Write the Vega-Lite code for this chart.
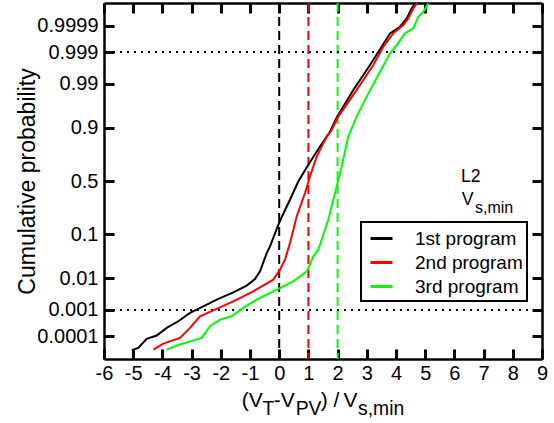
{
  "$schema": "https://vega.github.io/schema/vega-lite/v6.json",
  "width": 438,
  "height": 356,
  "autosize": "none",
  "padding": {"left": 104, "top": 3, "right": 12, "bottom": 64},
  "background": "white",
  "config": {
    "font": "Liberation Sans",
    "view": {"stroke": null},
    "axis": {"grid": false, "domainColor": "black", "domainWidth": 2.5, "tickColor": "black", "tickWidth": 3, "tickSize": -10, "labelColor": "black", "labelFont": "Liberation Sans"},
    "legend": {
      "symbolType": "stroke", "symbolSize": 484, "symbolStrokeWidth": 3, "symbolDash": [1, 0],
      "labelFontSize": 19, "labelColor": "black", "labelFont": "Liberation Sans", "labelOffset": 21,
      "rowPadding": 1, "padding": 4, "symbolOffset": 4,
      "strokeColor": "black", "strokeWidth": 2, "fillColor": "white"
    }
  },
  "datasets": {
    "curves": [
      {"program": "1st program", "v": -5.05, "z": -4.055},
      {"program": "1st program", "v": -4.825, "z": -3.998},
      {"program": "1st program", "v": -4.538, "z": -3.782},
      {"program": "1st program", "v": -4.195, "z": -3.703},
      {"program": "1st program", "v": -3.853, "z": -3.519},
      {"program": "1st program", "v": -3.455, "z": -3.361},
      {"program": "1st program", "v": -3.055, "z": -3.16},
      {"program": "1st program", "v": -2.599, "z": -3.002},
      {"program": "1st program", "v": -2.14, "z": -2.842},
      {"program": "1st program", "v": -1.572, "z": -2.667},
      {"program": "1st program", "v": -1.113, "z": -2.507},
      {"program": "1st program", "v": -0.829, "z": -2.35},
      {"program": "1st program", "v": -0.658, "z": -2.165},
      {"program": "1st program", "v": -0.428, "z": -1.73},
      {"program": "1st program", "v": -0.315, "z": -1.567},
      {"program": "1st program", "v": 0.0, "z": -1.0},
      {"program": "1st program", "v": 0.257, "z": -0.61},
      {"program": "1st program", "v": 0.37, "z": -0.45},
      {"program": "1st program", "v": 0.654, "z": -0.012},
      {"program": "1st program", "v": 0.997, "z": 0.388},
      {"program": "1st program", "v": 1.397, "z": 0.825},
      {"program": "1st program", "v": 1.74, "z": 1.18},
      {"program": "1st program", "v": 1.97, "z": 1.52},
      {"program": "1st program", "v": 2.538, "z": 2.182},
      {"program": "1st program", "v": 3.11, "z": 2.78},
      {"program": "1st program", "v": 3.51, "z": 3.218},
      {"program": "1st program", "v": 3.795, "z": 3.538},
      {"program": "1st program", "v": 4.137, "z": 3.696},
      {"program": "1st program", "v": 4.366, "z": 3.897},
      {"program": "1st program", "v": 4.538, "z": 4.136},
      {"program": "1st program", "v": 4.651, "z": 4.256},
      {"program": "2nd program", "v": -4.312, "z": -4.038},
      {"program": "2nd program", "v": -3.969, "z": -3.895},
      {"program": "2nd program", "v": -3.397, "z": -3.758},
      {"program": "2nd program", "v": -3.055, "z": -3.519},
      {"program": "2nd program", "v": -2.712, "z": -3.242},
      {"program": "2nd program", "v": -2.14, "z": -3.065},
      {"program": "2nd program", "v": -1.572, "z": -2.883},
      {"program": "2nd program", "v": -0.887, "z": -2.644},
      {"program": "2nd program", "v": -0.202, "z": -2.364},
      {"program": "2nd program", "v": 0.027, "z": -2.124},
      {"program": "2nd program", "v": 0.199, "z": -1.885},
      {"program": "2nd program", "v": 0.37, "z": -1.486},
      {"program": "2nd program", "v": 0.599, "z": -0.849},
      {"program": "2nd program", "v": 0.884, "z": -0.289},
      {"program": "2nd program", "v": 1.055, "z": 0.108},
      {"program": "2nd program", "v": 1.284, "z": 0.586},
      {"program": "2nd program", "v": 1.627, "z": 1.065},
      {"program": "2nd program", "v": 1.78, "z": 1.2},
      {"program": "2nd program", "v": 2.024, "z": 1.543},
      {"program": "2nd program", "v": 2.654, "z": 2.182},
      {"program": "2nd program", "v": 3.223, "z": 2.78},
      {"program": "2nd program", "v": 3.565, "z": 3.218},
      {"program": "2nd program", "v": 3.908, "z": 3.538},
      {"program": "2nd program", "v": 4.25, "z": 3.737},
      {"program": "2nd program", "v": 4.421, "z": 3.897},
      {"program": "2nd program", "v": 4.592, "z": 4.136},
      {"program": "2nd program", "v": 4.72, "z": 4.263},
      {"program": "3rd program", "v": -3.853, "z": -4.038},
      {"program": "3rd program", "v": -3.397, "z": -3.919},
      {"program": "3rd program", "v": -2.654, "z": -3.758},
      {"program": "3rd program", "v": -2.37, "z": -3.481},
      {"program": "3rd program", "v": -2.027, "z": -3.321},
      {"program": "3rd program", "v": -1.627, "z": -3.242},
      {"program": "3rd program", "v": -1.229, "z": -3.041},
      {"program": "3rd program", "v": -0.771, "z": -2.842},
      {"program": "3rd program", "v": -0.086, "z": -2.603},
      {"program": "3rd program", "v": 0.483, "z": -2.404},
      {"program": "3rd program", "v": 0.942, "z": -2.165},
      {"program": "3rd program", "v": 0.997, "z": -2.09},
      {"program": "3rd program", "v": 1.168, "z": -1.806},
      {"program": "3rd program", "v": 1.339, "z": -1.646},
      {"program": "3rd program", "v": 1.682, "z": -0.928},
      {"program": "3rd program", "v": 1.911, "z": -0.289},
      {"program": "3rd program", "v": 2.14, "z": 0.347},
      {"program": "3rd program", "v": 2.366, "z": 1.065},
      {"program": "3rd program", "v": 2.654, "z": 1.543},
      {"program": "3rd program", "v": 2.997, "z": 2.022},
      {"program": "3rd program", "v": 3.394, "z": 2.541},
      {"program": "3rd program", "v": 3.795, "z": 3.06},
      {"program": "3rd program", "v": 4.024, "z": 3.258},
      {"program": "3rd program", "v": 4.308, "z": 3.538},
      {"program": "3rd program", "v": 4.592, "z": 3.658},
      {"program": "3rd program", "v": 4.764, "z": 3.935},
      {"program": "3rd program", "v": 4.935, "z": 4.055},
      {"program": "3rd program", "v": 5.106, "z": 4.256}
    ],
    "refs": [
      {"program": "1st program", "v": 0},
      {"program": "2nd program", "v": 1},
      {"program": "3rd program", "v": 2}
    ],
    "hlines": [
      {"p": 0.999, "z": 3.090232},
      {"p": 0.001, "z": -3.090232}
    ],
    "notes": [
      {"text": "(V", "role": "title", "v": -1.284, "z": -5.414},
      {"text": "T", "role": "titlesub", "v": -0.575, "z": -5.598},
      {"text": "-V", "role": "title", "v": -0.19, "z": -5.414},
      {"text": "PV", "role": "titlesub", "v": 0.565, "z": -5.598},
      {"text": ") /", "role": "title", "v": 1.42, "z": -5.414},
      {"text": "V", "role": "title", "v": 2.2, "z": -5.414},
      {"text": "s,min", "role": "titlesub", "v": 2.7, "z": -5.598},
      {"text": "L2", "role": "note", "v": 6.226, "z": -0.017},
      {"text": "V", "role": "note", "v": 6.25, "z": -0.574},
      {"text": "s,min", "role": "notesub", "v": 6.705, "z": -0.773}
    ]
  },
  "layer": [
    {
      "data": {"name": "refs"},
      "mark": {"type": "rule", "strokeDash": [9, 5], "strokeWidth": 2},
      "encoding": {
        "x": {
          "field": "v", "type": "quantitative",
          "scale": {"domain": [-6, 9], "nice": false, "zero": false},
          "axis": {"orient": "bottom", "values": [-6, -5, -4, -3, -2, -1, 0, 1, 2, 3, 4, 5, 6, 7, 8, 9], "labelExpr": "'' + datum.value", "labelFontSize": 20, "labelPadding": 14.5, "labelFlush": false, "labelOverlap": false, "title": null}
        },
        "color": {
          "field": "program", "type": "nominal",
          "scale": {"domain": ["1st program", "2nd program", "3rd program"], "range": ["#000000", "#ff0000", "#00ff00"]},
          "legend": {"title": null, "orient": "none", "legendX": 257, "legendY": 219}
        }
      }
    },
    {
      "data": {"name": "hlines"},
      "mark": {"type": "rule", "strokeDash": [2, 5], "strokeWidth": 2, "color": "black"},
      "encoding": {
        "y": {
          "field": "z", "type": "quantitative",
          "scale": {"domain": [-4.265, 4.265], "nice": false, "zero": false},
          "axis": {
            "orient": "left",
            "values": [-3.719016, -3.090232, -2.326348, -1.281552, 0, 1.281552, 2.326348, 3.090232, 3.719016],
            "labelExpr": "datum.value < -3.5 ? '0.0001' : datum.value < -3 ? '0.001' : datum.value < -2 ? '0.01' : datum.value < -1 ? '0.1' : datum.value < 1 ? '0.5' : datum.value < 2 ? '0.9' : datum.value < 3 ? '0.99' : datum.value < 3.5 ? '0.999' : '0.9999'",
            "labelFontSize": 20, "labelPadding": 16, "labelFlush": false, "labelOverlap": false,
            "title": "Cumulative probability", "titleFontSize": 23, "titleFontWeight": "normal", "titleColor": "black", "titleX": -77, "titleBaseline": "middle"
          }
        }
      }
    },
    {
      "data": {"name": "curves"},
      "mark": {"type": "line", "strokeWidth": 2, "clip": true},
      "encoding": {
        "x": {
          "field": "v", "type": "quantitative",
          "axis": {"orient": "top", "values": [-6, -5, -4, -3, -2, -1, 0, 1, 2, 3, 4, 5, 6, 7, 8, 9], "labels": false, "title": null}
        },
        "y": {
          "field": "z", "type": "quantitative",
          "axis": {"orient": "right", "values": [-3.719016, -3.090232, -2.326348, -1.281552, 0, 1.281552, 2.326348, 3.090232, 3.719016], "labels": false, "title": null}
        },
        "color": {
          "field": "program", "type": "nominal",
          "legend": {"title": null, "orient": "none", "legendX": 257, "legendY": 219}
        }
      }
    },
    {
      "data": {"name": "notes"},
      "mark": {"type": "text", "align": "left", "baseline": "alphabetic", "color": "black", "font": "Liberation Sans"},
      "encoding": {
        "x": {"field": "v", "type": "quantitative", "axis": null},
        "y": {"field": "z", "type": "quantitative", "axis": null},
        "text": {"field": "text"},
        "size": {"field": "role", "type": "nominal", "scale": {"domain": ["title", "titlesub", "note", "notesub"], "range": [21, 16, 19, 15]}, "legend": null}
      }
    }
  ]
}
